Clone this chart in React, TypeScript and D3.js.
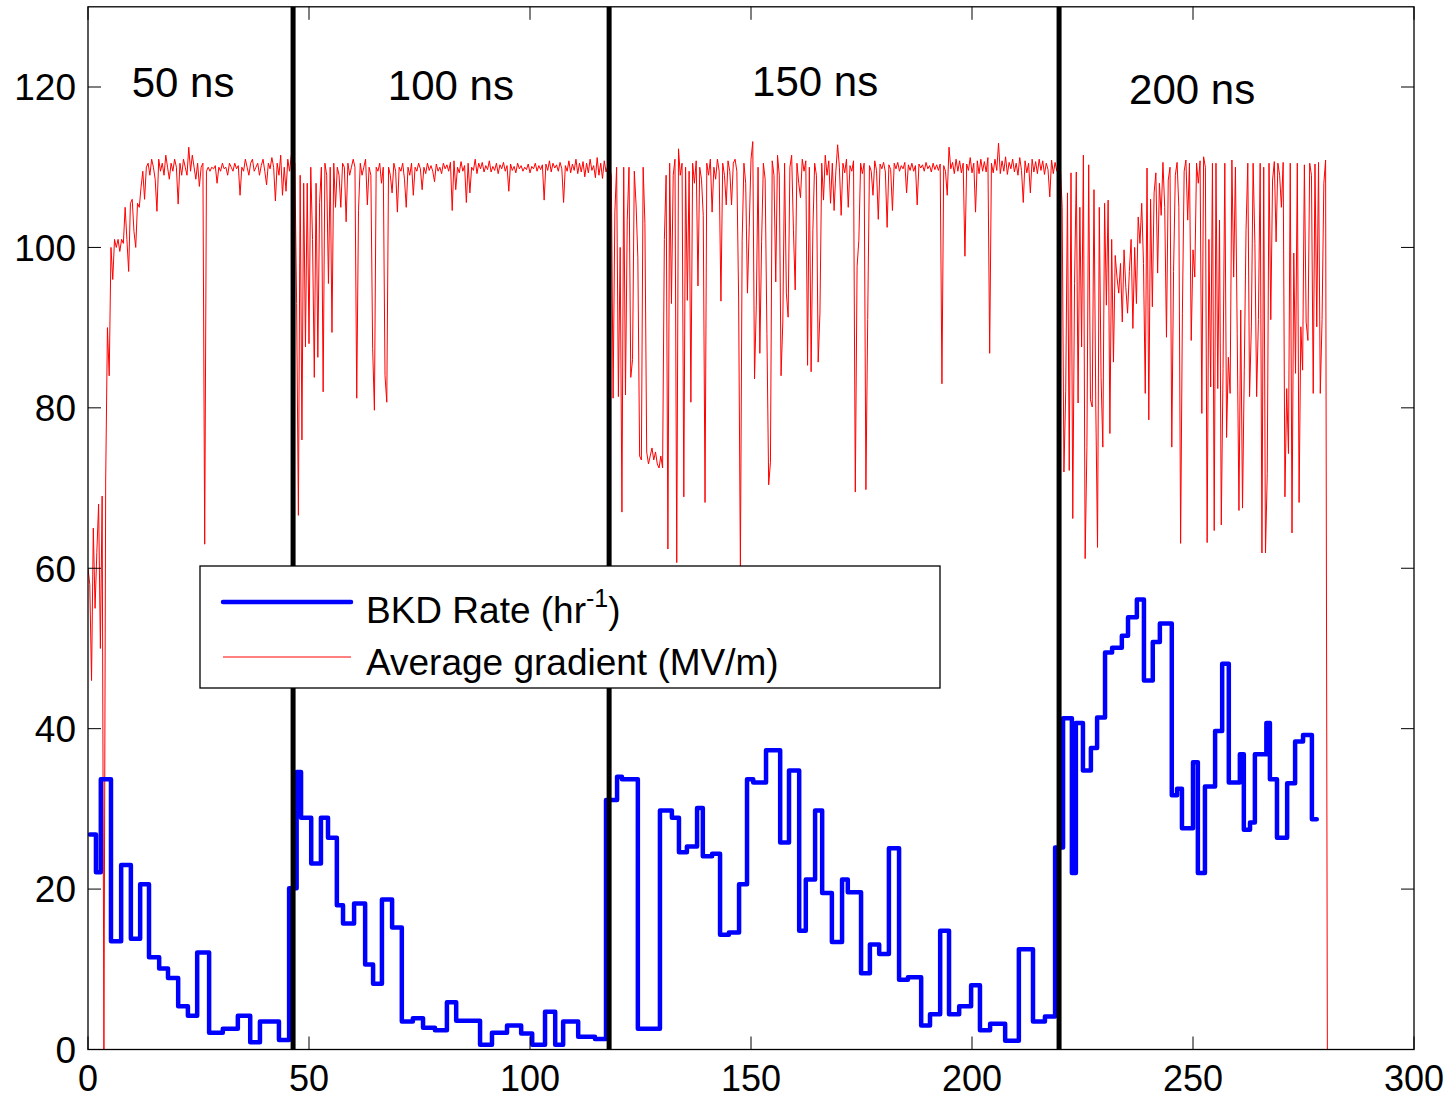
import React, { useEffect } from 'react';
import * as d3 from 'd3';

const X_TICKS = [0, 50, 100, 150, 200, 250, 300];
const Y_TICKS = [0, 20, 40, 60, 80, 100, 120];

// Average gradient (MV/m), sampled every GRADIENT_X_STEP along x
const GRADIENT_X_STEP = 0.4;
const gradient = [
  // 50 ns
  60, 58, 46, 65, 55, 62, 68, 50, 69, 0,
  71, 90, 84, 100, 96, 101, 100, 101, 99.5, 101,
  100.5, 105, 101, 97, 105.5, 106, 102, 100, 105.5, 105,
  107.5, 109.5, 106, 110, 110.5, 109, 111, 110, 108.5, 104.5,
  111, 109.5, 110.5, 109, 111.5, 110, 108.5, 110.5, 109.5, 111,
  110, 105.4, 110.5, 109, 111, 110, 109, 112.5, 109.5, 111.5,
  110, 108.5, 110.5, 107.6, 110, 110.5, 63, 109.5, 110, 109.5,
  110, 109.8, 110.2, 108, 110, 109.5, 110.5, 109.8, 110, 109,
  110.5, 110, 109.5, 110.5, 109.8, 110.2, 106.5, 110, 109.5, 111,
  110, 109, 110.5, 111, 109.5, 110, 110.5, 109, 110.2, 111,
  109.5, 107.8, 110.5, 109.8, 111.2, 110, 105.8, 110.5, 109, 111.5,
  106.5, 110, 107, 111, 109.5, 111.5, 110,
  // 100 ns
  110.5, 93, 66.6,
  109, 76, 108, 87.6, 108, 88, 110, 101, 83.8, 108,
  86.3, 105.6, 110, 82, 110.5, 109, 95.5, 110, 89.4, 110.5,
  105, 110, 109, 105, 110.5, 110, 103.2, 110.5, 109, 110,
  111, 110, 81.2, 104.6, 110.5, 109, 110, 111, 105.3, 110,
  109, 87.4, 79.7, 110, 109.5, 110.5, 108, 110, 84, 80.7,
  110, 109, 106.8, 110.5, 109.5, 104.4, 110, 109.5, 110.5, 108.5,
  105, 110, 109, 110.5, 106.5, 110, 109.5, 110.5, 109.8, 107.2,
  110, 109.2, 110.5, 109.6, 110.2, 109.5, 108.2, 110.4, 109.5, 110,
  109.2, 110.5, 109.8, 110.3, 109.5, 110.6, 104.6, 110.8, 107.2, 110,
  109.3, 110.7, 109.5, 110.2, 105.6, 110.5, 106.8, 110, 109.6, 111,
  109.2, 110.5, 109.8, 110.6, 109.4, 110.2, 109.7, 110.8, 109.4, 110.1,
  109.6, 110.5, 109.2, 110.3, 109.8, 110.6, 109.5, 110.2, 107, 110.4,
  109.6, 110.1, 109.3, 110.5, 109.8, 110.2, 109.5, 110, 109.7, 110.4,
  109.3, 110.1, 109.8, 110.5, 109.5, 110.2, 109.7, 110.3, 105.9, 110.4,
  109.6, 110.8, 109.4, 110.5, 109.9, 110.3, 109.5, 110.6, 109.8, 105.6,
  110.2, 109.5, 110.8, 109.3, 110.4, 109.6, 111, 109.2, 110.5, 109.4,
  110.7, 108.8, 110.5, 109.3, 111, 109.6, 110.2, 108.7, 111.2, 109,
  110.5, 108.6, 110.8, 109.4, 110.2,
  // 150 ns
  110, 109, 81.2, 104.4, 110,
  81.4, 100, 67, 110, 81.6, 103.4, 110, 83.8, 86, 109.5,
  105.3, 98.7, 74, 73.5, 110, 103, 74.5, 73, 74, 75,
  73.5, 74.5, 73, 72.5, 74, 72.5, 101, 109, 62.4, 110.5,
  93, 109, 111, 60.7, 112.3, 109, 110.5, 68.9, 110, 93.4,
  109.5, 80.7, 110.5, 108, 110.8, 95.2, 110, 108.5, 104, 68.2,
  110.5, 109, 111, 104.4, 110, 108.5, 111, 109.5, 93.3, 110.5,
  109, 105.3, 110.8, 109.5, 105.3, 110.5, 111, 109.5, 93.7, 60.1,
  100.9, 110.5, 108, 94.3, 102.5, 111, 113.2, 83.6, 92.8, 110,
  86.8, 100.7, 110.5, 108.5, 89.3, 70.4, 73.2, 110.8, 109, 95.7,
  111.5, 109, 84, 90.7, 110.5, 94.3, 91.3, 110, 111.5, 102.2,
  94.7, 110.5, 108, 106.2, 111, 109.5, 110.8, 85.3, 110, 84.5,
  102.2, 110.5, 109, 85.7, 91.8, 110.5, 105.9, 111.5, 109, 110.8,
  105.5, 110.5, 104.6, 109.5, 112.8, 110, 104, 110.5, 109.3, 111,
  105, 110.2, 109.5, 110.8, 69.5, 97.6, 100.9, 110.5, 109.2, 110.5,
  69.8, 91, 110.2, 109.5, 106.5, 110.8, 109.6, 103.5, 110.4, 109.8,
  110.6, 109.4, 102.5, 110.3, 109.7, 104.6, 110.5, 109.8, 110.6, 109.5,
  110.2, 109.8, 110.6, 106.8, 110.3, 109.6, 110.5, 109.5, 110.2, 105.3,
  110.4, 109.9, 110.3, 109.5, 110.6, 109.8, 110.2, 109.4, 110.5, 109.7,
  110.3, 109.6, 110.4, 83, 110.2, 109.5, 106.5, 112.5, 109.8, 110.6,
  109.2, 111, 109.5, 110.8, 109.3, 110.5, 98.9, 110.4, 109.6, 111.2,
  109.3, 110.5, 104.4, 110.8, 109.2, 111, 109.5, 110.7, 109.4, 111.2,
  86.8, 110.5, 109.3, 111, 109.6, 113, 109.2, 110.8, 109.5, 111.3,
  109.1, 110.6, 109.8, 111, 109.4, 110.5, 109, 111.2, 109.6, 105.6,
  110.8, 109.3, 110.5, 106.8, 111, 109.4, 110.7, 109.2, 111, 109.6,
  110.8, 109.1, 110.5, 109.7, 106.3, 110.9, 109.2, 110.6, 109.5,
  // 200 ns
  110.5,
  110, 105, 72, 82, 106.8, 72.2, 109.3, 66.2, 95.5, 109.4,
  80.6, 105, 87.6, 111.5, 61.2, 75.1, 110.3, 81, 80.1, 107.2,
  80.6, 62.6, 105, 83.8, 75.1, 105.5, 92.8, 105.9, 76.8, 101,
  85.7, 99, 96.3, 94.3, 98, 90.7, 99.7, 95, 91.8, 97,
  101, 89.9, 100, 93, 103.8, 100.5, 105.5, 98, 81.8, 109.9,
  78.5, 106, 92.6, 106.8, 109.3, 96.8, 108, 104, 110.6, 105,
  88.8, 108.4, 110, 75.1, 97, 109, 110.6, 105, 63.1, 91.8,
  109.5, 110.9, 103.4, 110.5, 88.4, 99.7, 96.3, 110.5, 108, 110.8,
  79.3, 111.3, 110, 63.2, 101, 82.6, 110.5, 64.7, 110.5, 82.4,
  103.4, 65.4, 84.9, 110.5, 76.3, 86.3, 81.8, 110.9, 96.3, 110,
  89.3, 67.2, 92.2, 67.5, 84.7, 102.2, 110.5, 81.4, 90.1, 110.5,
  100.5, 81.4, 91, 110.5, 61.9, 110, 61.9, 71.8, 110.5, 91,
  108.4, 110.7, 100.7, 110.5, 109, 105, 110.6, 68.9, 82.4, 74.3,
  110.5, 64.4, 99.3, 84.3, 110.5, 68.2, 90.1, 84.7, 110.3, 90.7,
  88.4, 110.5, 109, 81.8, 110.4, 90.1, 110.6, 81.8, 91, 108,
  110.9, 0,
];

// BKD rate (hr^-1): step start positions and values
const bkdX = [
  0.45, 1.8, 2.9, 5.2, 7.5, 9.7, 11.8, 13.8, 16.1, 18.1,
  20.4, 22.6, 24.7, 27.4, 30.5, 33.9, 36.7, 38.9, 43.2, 45.5,
  47.2, 48.2, 50.5, 52.7, 54.3, 56.3, 57.7, 60.2, 62.7, 64.5,
  66.5, 68.8, 71, 73.5, 75.8, 78.5, 81.2, 83.3, 88.7, 91.4,
  94.8, 98, 100.5, 103.4, 105.7, 107.5, 110.9, 114.7, 117.2, 119.7,
  120.8, 124.4, 129.4, 132.1, 133.7, 135.5, 137.8, 139.1, 141.2, 143,
  145, 147.3, 149.1, 150.5, 153.4, 156.6, 158.6, 160.9, 162.4, 164.5,
  166.1, 168.3, 170.6, 171.9, 174.9, 176.9, 179, 181.2, 183.5, 185.5,
  188.5, 190.5, 192.8, 194.8, 197.1, 199.8, 201.8, 204.1, 207.5, 210.6,
  213.8, 216.5, 218.8, 220.6, 222.6, 223.5, 225.1, 226.9, 228.3, 230.1,
  231.7, 233.9, 235.3, 237.3, 238.9, 240.9, 242.5, 245.2, 246.4, 247.5,
  250, 251.1, 252.7, 255, 256.6, 258.1, 260.6, 261.5, 262.9, 264,
  266.6, 267.4, 269, 271.3, 273.1, 274.9, 276.9, 278,
];
const bkdY = [
  26.8, 22.1, 33.7, 13.5, 23, 13.8, 20.6, 11.5, 10.1, 8.9,
  5.4, 4.2, 12.1, 2.1, 2.6, 4.2, 0.9, 3.5, 1.2, 20.1,
  34.6, 28.9, 23.2, 28.9, 26.4, 18, 15.7, 18.2, 10.6, 8.2,
  18.7, 15.2, 3.5, 3.9, 2.7, 2.4, 5.9, 3.6, 0.6, 2.1,
  3, 2, 0.6, 4.7, 0.6, 3.5, 1.6, 1.3, 31.1, 34,
  33.7, 2.6, 29.8, 28.9, 24.6, 25.3, 30.1, 24.1, 24.4, 14.3,
  14.6, 20.6, 33.7, 33.3, 37.3, 25.8, 34.8, 14.8, 21.2, 29.8,
  19.5, 13.4, 21.2, 19.6, 9.5, 13.1, 11.9, 25.1, 8.7, 9,
  3, 4.4, 14.8, 4.4, 5.4, 8, 2.4, 3.2, 1.1, 12.5,
  3.5, 4.1, 25.2, 41.3, 22, 40.7, 34.8, 37.6, 41.4, 49.5,
  50.1, 51.6, 53.9, 56.1, 46, 50.8, 53.1, 31.7, 32.5, 27.6,
  35.8, 22, 32.8, 39.7, 48.1, 33.3, 36.8, 27.4, 28.3, 36.8,
  40.7, 33.7, 26.4, 33.2, 38.4, 39.2, 28.7, 28.7,
];

const separatorsX = [46.4, 117.9, 219.7];
const pulseLabels = ['50 ns', '100 ns', '150 ns', '200 ns'];
const pulseLabelX = [21.5, 82.1, 164.5, 249.8];
const pulseLabelY = [118.8, 118.4, 118.9, 117.9];

const legendLabels = ['BKD Rate (hr', 'Average gradient (MV/m)'];

const FONT = '"Liberation Sans", Arial, Helvetica, sans-serif';

export default function App() {
  useEffect(() => {
    document.body.style.margin = '0';
  }, []);

  const W = 1455;
  const H = 1100;
  const x = d3.scaleLinear().domain([0, 300]).range([88, 1414]);
  const y = d3.scaleLinear().domain([0, 130]).range([1049.5, 6.8]);
  const left = x(0), right = x(300), top = y(130), bottom = y(0);

  const redLine = d3
    .line<number>()
    .x((_, i) => x(i * GRADIENT_X_STEP))
    .y((d) => y(d));

  const bluePts = bkdX.map((v, i) => [v, bkdY[i]] as [number, number]);
  const blueLine = d3
    .line<[number, number]>()
    .x((d) => x(d[0]))
    .y((d) => y(d[1]))
    .curve(d3.curveStepAfter);

  const tickLen = 13;

  return (
    <svg width={W} height={H} style={{ display: 'block', background: '#fff' }} fontFamily={FONT}>
      <rect x={0} y={0} width={W} height={H} fill="#fff" />
      <defs>
        <clipPath id="plotClip">
          <rect x={left} y={top} width={right - left} height={bottom - top} />
        </clipPath>
      </defs>
      <g clipPath="url(#plotClip)">
        <path d={redLine(gradient) || ''} fill="none" stroke="#ff0000" strokeWidth={1} strokeLinejoin="miter" />
        <path d={blueLine(bluePts) || ''} fill="none" stroke="#0000ff" strokeWidth={4.5} strokeLinejoin="round" strokeLinecap="round" />
        {separatorsX.map((s) => (
          <line key={s} x1={x(s)} x2={x(s)} y1={top} y2={bottom} stroke="#000" strokeWidth={5} />
        ))}
      </g>
      {/* axes box */}
      <rect x={left} y={top} width={right - left} height={bottom - top} fill="none" stroke="#000" strokeWidth={1.3} />
      {X_TICKS.map((t) => (
        <g key={'xt' + t}>
          <line x1={x(t)} x2={x(t)} y1={bottom} y2={bottom - tickLen} stroke="#000" strokeWidth={1} />
          <line x1={x(t)} x2={x(t)} y1={top} y2={top + tickLen} stroke="#000" strokeWidth={1} />
          <text x={x(t)} y={1091} textAnchor="middle" fontSize={36} fill="#000">
            {t}
          </text>
        </g>
      ))}
      {Y_TICKS.map((t) => (
        <g key={'yt' + t}>
          <line x1={left} x2={left + tickLen} y1={y(t)} y2={y(t)} stroke="#000" strokeWidth={1} />
          <line x1={right} x2={right - tickLen} y1={y(t)} y2={y(t)} stroke="#000" strokeWidth={1} />
          <text x={76} y={y(t)} dy="0.36em" textAnchor="end" fontSize={37} fill="#000">
            {t}
          </text>
        </g>
      ))}
      {pulseLabels.map((l, i) => (
        <text key={l} x={x(pulseLabelX[i])} y={y(pulseLabelY[i])} textAnchor="middle" fontSize={42} fill="#000">
          {l}
        </text>
      ))}
      {/* legend */}
      <g>
        <rect x={200} y={566} width={740} height={122} fill="#fff" stroke="#000" strokeWidth={1.3} />
        <line x1={223} x2={351} y1={602} y2={602} stroke="#0000ff" strokeWidth={4.5} strokeLinecap="round" />
        <line x1={223} x2={351} y1={657} y2={657} stroke="#ff0000" strokeWidth={1} />
        <text x={366} y={623} fontSize={37} fill="#000">
          <tspan>{legendLabels[0]}</tspan>
          <tspan dy={-16} fontSize={25}>-1</tspan>
          <tspan dy={16}>)</tspan>
        </text>
        <text x={366} y={675} fontSize={37} fill="#000">
          {legendLabels[1]}
        </text>
      </g>
    </svg>
  );
}
